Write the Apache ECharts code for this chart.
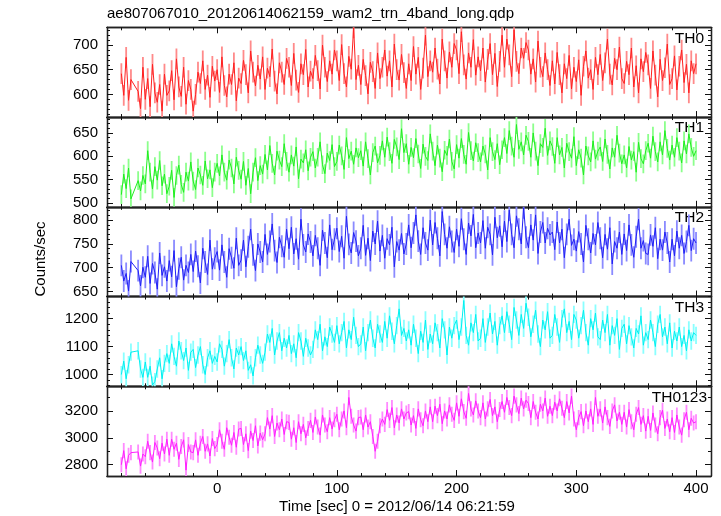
<!DOCTYPE html>
<html><head><meta charset="utf-8">
<script src="https://cdn.jsdelivr.net/npm/echarts@6/dist/echarts.min.js"></script>
<style>html,body{margin:0;padding:0;background:#fff}#c{width:721px;height:516px}</style>
</head><body><div id="c"></div>
<script>
// ---- data ----
const TITLE = 'ae807067010_20120614062159_wam2_trn_4band_long.qdp';
const X_TITLE = 'Time [sec] 0 = 2012/06/14 06:21:59';
const Y_TITLE = 'Counts/sec';
const PANEL_NAMES = ['TH0', 'TH1', 'TH2', 'TH3', 'TH0123'];
// time bins: -80 .. 400 s, 2 s step (null = no data in that bin)
const TIME_START = -80, TIME_STEP = 2, TIME_END = 400;

const TH0 = [
642,598,675,588,630,null,null,606,571,655,
590,632,575,661,603,584,620,566,641,598,
607,648,589,672,615,596,655,580,628,610,
566,600,645,622,668,610,639,594,657,627,
650,604,676,618,595,641,620,664,587,633,
622,669,640,603,688,645,617,659,631,676,
610,653,636,692,627,601,664,645,620,673,
655,618,683,629,604,662,640,691,615,647,
632,679,648,611,700,655,626,668,641,690,
668,628,701,642,615,677,651,735,630,659,
620,671,638,601,665,646,612,684,632,655,
690,637,668,615,702,650,629,681,644,612,
662,628,697,641,675,610,653,720,636,668,
645,694,651,621,712,668,633,686,655,703,
690,642,727,660,631,684,655,711,639,676,
648,694,625,671,703,640,683,616,667,720,
655,712,680,636,731,667,642,694,673,705,
690,641,672,625,708,655,636,684,650,618,
668,621,685,640,603,662,632,679,611,655,
626,670,598,657,688,633,650,610,675,640,
681,628,664,712,641,619,673,650,696,632,
622,667,640,694,615,658,603,672,646,685,
660,612,688,639,595,671,628,654,702,620,
632,678,609,657,690,624,661,603,668,642,
662];

const TH1 = [
518,562,531,575,509,null,null,548,526,559,
541,612,566,530,578,549,591,537,562,520,
536,570,512,559,581,540,523,566,547,588,
547,529,575,560,538,590,552,571,533,566,
585,558,603,566,549,592,575,541,598,570,
551,589,538,574,520,566,597,548,580,562,
604,571,623,585,560,611,592,578,627,589,
566,603,579,620,552,594,586,614,569,598,
610,575,598,631,582,563,607,591,625,578,
589,624,601,572,640,595,611,583,618,597,
612,579,631,595,560,608,622,586,602,633,
598,641,610,585,636,620,593,659,608,627,
583,619,597,638,605,574,626,600,591,648,
611,580,624,596,567,613,602,637,589,573,
625,596,638,604,583,651,612,590,629,608,
588,622,605,571,640,610,593,627,582,614,
640,606,655,622,598,668,615,631,603,645,
632,598,650,611,580,627,619,660,602,633,
621,585,640,603,619,575,628,610,596,642,
580,614,596,560,622,601,588,633,594,611,
620,589,637,604,573,618,598,645,607,584,
603,575,621,592,610,566,630,595,584,612,
628,596,643,610,588,631,603,655,617,592,
624,598,640,611,586,633,605,648,619,600,
612];

const TH2 = [
705,672,688,651,713,null,null,694,662,701,
680,724,667,709,690,655,731,684,702,672,
715,681,736,660,698,722,674,705,690,728,
692,735,703,668,741,712,686,758,697,720,
734,695,748,712,680,740,721,699,762,705,
716,758,702,744,781,727,694,750,733,712,
770,728,755,792,736,711,764,745,722,781,
740,785,729,761,718,802,748,733,771,754,
725,768,741,705,779,752,721,790,738,760,
783,734,766,720,808,749,731,774,756,725,
741,789,726,762,715,777,750,798,735,768,
720,761,748,785,702,755,737,772,729,750,
790,742,773,811,756,728,784,752,737,800,
748,795,762,725,818,770,741,786,755,732,
781,745,803,760,728,794,767,812,742,773,
752,799,741,785,770,727,806,763,788,744,
798,755,821,770,742,809,781,750,826,764,
742,790,758,811,730,775,795,752,783,769,
775,738,796,752,781,721,770,802,747,760,
735,776,750,712,789,760,731,772,748,795,
762,721,770,739,784,708,755,741,775,728,
771,736,790,748,722,765,802,741,757,730,
728,769,745,784,719,760,737,775,752,712,
760,725,777,741,768,730,755,789,736,761,
752];

const TH3 = [
1000,1048,985,1035,1080,null,null,1085,1020,990,
1045,990,1030,962,975,1020,1060,985,1040,1075,
1040,1110,1065,1030,1120,1085,1050,1095,1015,1080,
1090,1025,1070,1100,1035,1000,1060,1085,1040,1065,
1045,1110,1090,1030,1075,1125,1060,1020,1095,1070,
1100,1050,1085,1015,1035,995,1060,1105,1070,1040,
1080,1145,1115,1165,1070,1120,1150,1085,1130,1095,
1140,1075,1110,1060,1150,1120,1065,1130,1095,1070,
1090,1160,1125,1180,1085,1135,1100,1170,1145,1115,
1175,1110,1150,1190,1095,1160,1125,1205,1140,1100,
1110,1170,1085,1150,1195,1130,1095,1180,1145,1115,
1190,1130,1210,1155,1110,1175,1235,1140,1165,1120,
1160,1105,1180,1130,1075,1155,1115,1195,1090,1145,
1110,1185,1150,1095,1200,1160,1070,1170,1130,1175,
1195,1125,1170,1265,1140,1105,1185,1150,1215,1120,
1130,1200,1115,1170,1220,1145,1190,1105,1175,1210,
1150,1225,1180,1125,1240,1195,1140,1215,1165,1255,
1205,1135,1180,1230,1145,1100,1195,1160,1225,1130,
1140,1215,1170,1115,1200,1235,1150,1190,1125,1215,
1195,1130,1175,1230,1150,1105,1200,1160,1220,1135,
1125,1195,1150,1215,1105,1175,1140,1200,1090,1165,
1180,1110,1175,1135,1095,1165,1145,1210,1105,1150,
1125,1195,1150,1100,1180,1215,1135,1170,1110,1185,
1095,1155,1120,1170,1100,1140,1085,1160,1120,1150,
1140];

const TH0123 = [
2800,2905,2770,2870,2890,null,null,2895,2790,2880,
2860,2975,2890,2820,2965,2925,2845,2960,2880,2990,
2870,2990,2915,2960,2840,2935,2985,2760,2950,2895,
2890,2985,2870,2960,3010,2900,2955,2865,2995,2920,
2950,3060,2975,2915,3075,3005,2945,3040,2930,3065,
3070,2950,3030,2905,3050,2980,3090,2940,3035,2985,
3030,3150,3065,3165,3010,3110,3060,3140,3025,3120,
3115,2990,3075,2965,3120,3030,3100,3000,3070,3130,
3040,3155,3080,3020,3170,3095,3045,3150,3065,3135,
3175,3060,3140,3200,3075,3300,3160,3095,3050,3150,
3155,3060,3170,3080,3120,3010,2900,2975,3090,3140,
3100,3210,3130,3225,3075,3170,3110,3215,3140,3185,
3195,3095,3165,3070,3215,3135,3090,3200,3120,3230,
3120,3235,3165,3250,3105,3200,3140,3245,3175,3130,
3260,3160,3290,3195,3145,3330,3215,3170,3275,3200,
3150,3260,3140,3215,3285,3165,3230,3120,3210,3270,
3190,3300,3225,3165,3310,3245,3180,3295,3215,3280,
3255,3150,3270,3190,3140,3250,3200,3295,3160,3235,
3165,3265,3200,3290,3220,3150,3270,3185,3310,3140,
3060,3150,3195,3090,3200,3120,3215,3100,3300,3160,
3215,3110,3230,3150,3085,3200,3245,3125,3190,3100,
3190,3080,3210,3120,3060,3175,3225,3100,3165,3050,
3160,3055,3185,3095,3030,3150,3205,3070,3140,3045,
3150,3040,3170,3080,3020,3135,3190,3060,3145,3110,
3120];

const SERIES_VALUES = [TH0, TH1, TH2, TH3, TH0123];
const ERRORS = [21, 20, 23, 31, 56];          // 1-sigma error per bin (counts/s)
const Y_RANGES = [[554, 736], [492, 684], [639.5, 828], [958, 1279], [2716, 3383]];
const Y_MAJOR = [[600, 650, 700], [500, 550, 600, 650], [650, 700, 750, 800], [1000, 1100, 1200], [2800, 3000, 3200]];
const Y_MINOR_STEP = [10, 10, 10, 20, 100];
const X_RANGE = [-92, 412.5];
const X_MAJOR = [0, 100, 200, 300, 400];
const X_MINOR_STEP = 20;

// ---- styles ----
const LINE_COLORS = ['#ff2020', '#20ee20', '#2020f5', '#00f0f0', '#ff20ff'];
const BAR_COLORS = ['#ff8a8a', '#8cff8c', '#8a8aff', '#8affff', '#ff8aff'];
const FONT = 'Liberation Sans, Arial, Helvetica, sans-serif';
const AX = '#222';

const TIME = [];
for (let t = TIME_START; t <= TIME_END; t += TIME_STEP) TIME.push(t);

function ticksBetween(lo, hi, step) {
  const out = [];
  for (let v = Math.ceil(lo / step) * step; v <= hi + 1e-9; v += step) out.push(v);
  return out;
}

const GRID_TOP = 27.3, GRID_H = 89.75;
const grids = [], xAxes = [], yAxes = [], series = [], graphics = [];

for (let i = 0; i < 5; i++) {
  grids.push({ left: 107, right: 10, top: GRID_TOP + i * GRID_H, height: GRID_H });
  const xMinor = ticksBetween(-80, 400, X_MINOR_STEP);
  const yMinor = ticksBetween(Y_RANGES[i][0], Y_RANGES[i][1], Y_MINOR_STEP[i]);
  const last = i === 4;
  const mkX = (pos, vals, len, showLabel) => ({
    type: 'value', gridIndex: i, position: pos, min: X_RANGE[0], max: X_RANGE[1],
    axisLine: { show: true, onZero: false, lineStyle: { color: AX, width: 1.3 } },
    axisTick: { show: true, inside: true, length: len, customValues: vals, lineStyle: { color: '#111', width: 1 } },
    axisLabel: { show: showLabel, customValues: X_MAJOR, margin: 5, color: '#000', fontSize: 15, fontFamily: FONT,
                 formatter: v => String(v) },
    splitLine: { show: false }
  });
  xAxes.push(mkX('bottom', X_MAJOR, 6, last), mkX('bottom', xMinor, 3, false),
             mkX('top', X_MAJOR, 6, false), mkX('top', xMinor, 3, false));
  const mkY = (pos, vals, len, showLabel) => ({
    type: 'value', gridIndex: i, position: pos, min: Y_RANGES[i][0], max: Y_RANGES[i][1],
    axisLine: { show: true, onZero: false, lineStyle: { color: AX, width: 1.3 } },
    axisTick: { show: true, inside: true, length: len, customValues: vals, lineStyle: { color: '#111', width: 1 } },
    axisLabel: { show: showLabel, customValues: Y_MAJOR[i], margin: 9, color: '#000', fontSize: 15, fontFamily: FONT,
                 formatter: v => String(v) },
    splitLine: { show: false }
  });
  yAxes.push(mkY('left', Y_MAJOR[i], 6, true), mkY('left', yMinor, 3, false),
             mkY('right', Y_MAJOR[i], 6, false), mkY('right', yMinor, 3, false));

  const vals = SERIES_VALUES[i], err = ERRORS[i];
  const barData = [], lineData = [];
  for (let j = 0; j < TIME.length && j < vals.length; j++) {
    if (vals[j] == null) { lineData.push([TIME[j], null]); continue; }
    barData.push([TIME[j], vals[j] - err, vals[j] + err]);
    lineData.push([TIME[j], vals[j]]);
  }
  const barColor = BAR_COLORS[i];
  series.push({
    type: 'custom', xAxisIndex: 4 * i, yAxisIndex: 4 * i, clip: true, silent: true,
    encode: { x: 0, y: [1, 2] },
    renderItem: (params, api) => {
      const x = api.value(0);
      const p1 = api.coord([x, api.value(1)]);
      const p2 = api.coord([x, api.value(2)]);
      return { type: 'line', shape: { x1: p1[0], y1: p1[1], x2: p2[0], y2: p2[1] },
               style: { stroke: barColor, lineWidth: 1.8 } };
    },
    data: barData
  });
  series.push({
    type: 'line', xAxisIndex: 4 * i, yAxisIndex: 4 * i, data: lineData, connectNulls: true,
    showSymbol: false, symbol: 'none', clip: true, silent: true,
    lineStyle: { color: LINE_COLORS[i], width: 1 }
  });
  graphics.push({
    type: 'text', right: i === 4 ? 14 : 17, top: GRID_TOP + i * GRID_H + 3,
    style: { text: PANEL_NAMES[i], font: '15.5px ' + FONT, fill: '#000' }
  });
}

graphics.push({ type: 'text', left: 107, top: 6, style: { text: TITLE, font: '15px ' + FONT, fill: '#000' } });
graphics.push({ type: 'text', x: 397, y: 507, style: { text: X_TITLE, font: '15px ' + FONT, fill: '#000', align: 'center', verticalAlign: 'middle' } });
graphics.push({ type: 'text', x: 41, y: 259, rotation: Math.PI / 2, style: { text: Y_TITLE, font: '15px ' + FONT, fill: '#000', align: 'center', verticalAlign: 'middle' } });

const chart = echarts.init(document.getElementById('c'), null, { renderer: 'canvas' });
chart.setOption({
  backgroundColor: '#fff', animation: false,
  grid: grids, xAxis: xAxes, yAxis: yAxes, series: series, graphic: graphics
});
</script></body></html>
